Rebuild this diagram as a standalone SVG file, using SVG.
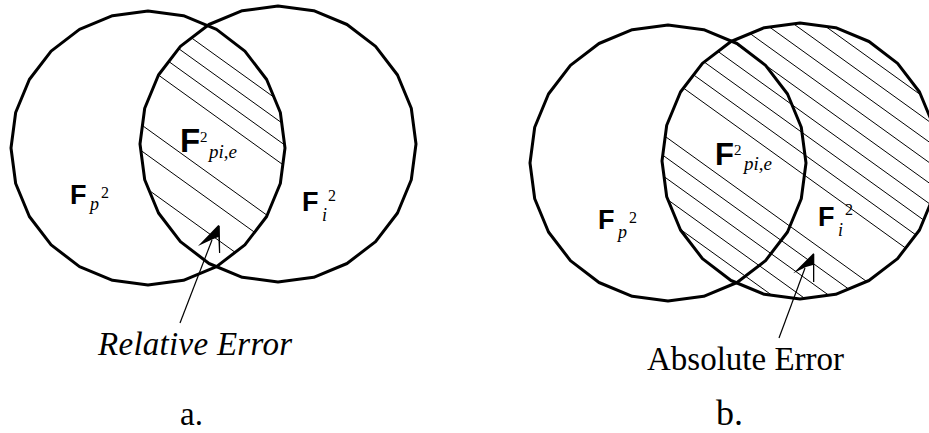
<svg xmlns="http://www.w3.org/2000/svg" width="929" height="433" viewBox="0 0 929 433">
<style>
.c{fill:none;stroke:#000;stroke-width:3;stroke-linejoin:round}
.h line{stroke:#000;stroke-width:1}
.F{font-family:"Liberation Sans",Arial,sans-serif;font-weight:bold;fill:#000}
.it{font-family:"Liberation Serif","Times New Roman",serif;font-style:italic;fill:#000}
.rm{font-family:"Liberation Serif","Times New Roman",serif;fill:#000}
.sh{stroke:#000;stroke-width:1.2;fill:none}
</style>
<defs>
<clipPath id="cA1"><polygon points="285,148 280.33,183.46 266.64,216.5 244.87,244.87 216.5,266.64 183.46,280.33 148,285 112.54,280.33 79.5,266.64 51.13,244.87 29.36,216.5 15.67,183.46 11,148 15.67,112.54 29.36,79.5 51.13,51.13 79.5,29.36 112.54,15.67 148,11 183.46,15.67 216.5,29.36 244.87,51.13 266.64,79.5 280.33,112.54"/></clipPath>
<clipPath id="cA2"><polygon points="416,144 411.29,179.71 397.51,213 375.58,241.58 347,263.51 313.71,277.29 278,282 242.29,277.29 209,263.51 180.42,241.58 158.49,213 144.71,179.71 140,144 144.71,108.29 158.49,75 180.42,46.42 209,24.49 242.29,10.71 278,6 313.71,10.71 347,24.49 375.58,46.42 397.51,75 411.29,108.29"/></clipPath>
<clipPath id="cB2"><polygon points="938,161 933.29,196.71 919.51,230 897.58,258.58 869,280.51 835.71,294.29 800,299 764.29,294.29 731,280.51 702.42,258.58 680.49,230 666.71,196.71 662,161 666.71,125.29 680.49,92 702.42,63.42 731,41.49 764.29,27.71 800,23 835.71,27.71 869,41.49 897.58,63.42 919.51,92 933.29,125.29"/></clipPath>
</defs>

<!-- hatching (a): relative error region -->
<g id="hatch-a" class="h" clip-path="url(#cA1)"><g clip-path="url(#cA2)">
<line x1="130" y1="-6.4" x2="300" y2="116"/>
<line x1="130" y1="13.6" x2="300" y2="136"/>
<line x1="130" y1="33.6" x2="300" y2="156"/>
<line x1="130" y1="54.6" x2="300" y2="177"/>
<line x1="130" y1="116.6" x2="300" y2="239"/>
<line x1="130" y1="142.6" x2="300" y2="265"/>
<line x1="130" y1="176.6" x2="300" y2="299"/>
</g></g>

<!-- hatching (b): absolute error region -->
<g id="hatch-b" class="h" clip-path="url(#cB2)">
<line x1="655" y1="-96.4" x2="945" y2="112.4"/>
<line x1="655" y1="-75.9" x2="945" y2="132.9"/>
<line x1="655" y1="-55.4" x2="945" y2="153.4"/>
<line x1="655" y1="-34.9" x2="945" y2="173.9"/>
<line x1="655" y1="-14.4" x2="945" y2="194.4"/>
<line x1="655" y1="6.1" x2="945" y2="214.9"/>
<line x1="655" y1="26.6" x2="945" y2="235.4"/>
<line x1="655" y1="47.1" x2="945" y2="255.9"/>
<line x1="655" y1="67.6" x2="945" y2="276.4"/>
<line x1="655" y1="129.1" x2="945" y2="337.9"/>
<line x1="655" y1="149.6" x2="945" y2="358.4"/>
<line x1="655" y1="170.1" x2="945" y2="378.9"/>
<line x1="655" y1="190.6" x2="945" y2="399.4"/>
<line x1="655" y1="211.1" x2="945" y2="419.9"/>
</g>

<!-- diagram a -->
<g id="a-Fp">
<polygon class="c" points="285,148 280.33,183.46 266.64,216.5 244.87,244.87 216.5,266.64 183.46,280.33 148,285 112.54,280.33 79.5,266.64 51.13,244.87 29.36,216.5 15.67,183.46 11,148 15.67,112.54 29.36,79.5 51.13,51.13 79.5,29.36 112.54,15.67 148,11 183.46,15.67 216.5,29.36 244.87,51.13 266.64,79.5 280.33,112.54"/>
<text class="F" x="70" y="204" font-size="27">F</text>
<text class="it" x="90" y="210" font-size="18">p</text>
<text class="rm" x="101" y="198" font-size="16">2</text>
</g>
<g id="a-Fi">
<polygon class="c" points="416,144 411.29,179.71 397.51,213 375.58,241.58 347,263.51 313.71,277.29 278,282 242.29,277.29 209,263.51 180.42,241.58 158.49,213 144.71,179.71 140,144 144.71,108.29 158.49,75 180.42,46.42 209,24.49 242.29,10.71 278,6 313.71,10.71 347,24.49 375.58,46.42 397.51,75 411.29,108.29"/>
<text class="F" x="302" y="211" font-size="27">F</text>
<text class="it" x="322" y="221" font-size="18">i</text>
<text class="rm" x="328" y="201" font-size="16">2</text>
</g>
<g id="a-Fpie">
<text class="F" x="180" y="152" font-size="33">F</text>
<text class="rm" x="200" y="142" font-size="15">2</text>
<text class="it" x="209" y="158" font-size="19">pi,e</text>
</g>
<g id="a-label">
<text class="it" x="98" y="355" font-size="33" textLength="194" lengthAdjust="spacing">Relative Error</text>
<text class="rm" x="180" y="425" font-size="33">a.</text>
</g>

<!-- diagram b -->
<g id="b-Fp">
<polygon class="c" points="806,163 801.29,198.71 787.51,232 765.58,260.58 737,282.51 703.71,296.29 668,301 632.29,296.29 599,282.51 570.42,260.58 548.49,232 534.71,198.71 530,163 534.71,127.29 548.49,94 570.42,65.42 599,43.49 632.29,29.71 668,25 703.71,29.71 737,43.49 765.58,65.42 787.51,94 801.29,127.29"/>
<text class="F" x="598" y="229" font-size="27">F</text>
<text class="it" x="618" y="238" font-size="18">p</text>
<text class="rm" x="629" y="223" font-size="16">2</text>
</g>
<g id="b-Fi">
<polygon class="c" points="938,161 933.29,196.71 919.51,230 897.58,258.58 869,280.51 835.71,294.29 800,299 764.29,294.29 731,280.51 702.42,258.58 680.49,230 666.71,196.71 662,161 666.71,125.29 680.49,92 702.42,63.42 731,41.49 764.29,27.71 800,23 835.71,27.71 869,41.49 897.58,63.42 919.51,92 933.29,125.29"/>
<text class="F" x="818" y="226" font-size="27">F</text>
<text class="it" x="838" y="236" font-size="18">i</text>
<text class="rm" x="845" y="215" font-size="16">2</text>
</g>
<g id="b-Fpie">
<text class="F" x="715" y="165" font-size="31">F</text>
<text class="rm" x="734" y="155" font-size="15">2</text>
<text class="it" x="744" y="170" font-size="19">pi,e</text>
</g>
<g id="b-label">
<text class="rm" x="647" y="370" font-size="33" textLength="197" lengthAdjust="spacingAndGlyphs">Absolute Error</text>
<text class="rm" x="716" y="425" font-size="36">b.</text>
</g>

<!-- connectors -->
<g id="connectors">
<line class="sh" x1="180" y1="323" x2="212" y2="240"/>
<polygon points="218.3,225 198,246 211,240 218.3,237 219,253 220.2,253 219.8,226"/>
<line class="sh" x1="779" y1="338" x2="805" y2="268"/>
<polygon points="813.3,253.3 793.3,273.3 806,267 813,265 813,282 814.3,282 814.3,254"/>
</g>
</svg>
